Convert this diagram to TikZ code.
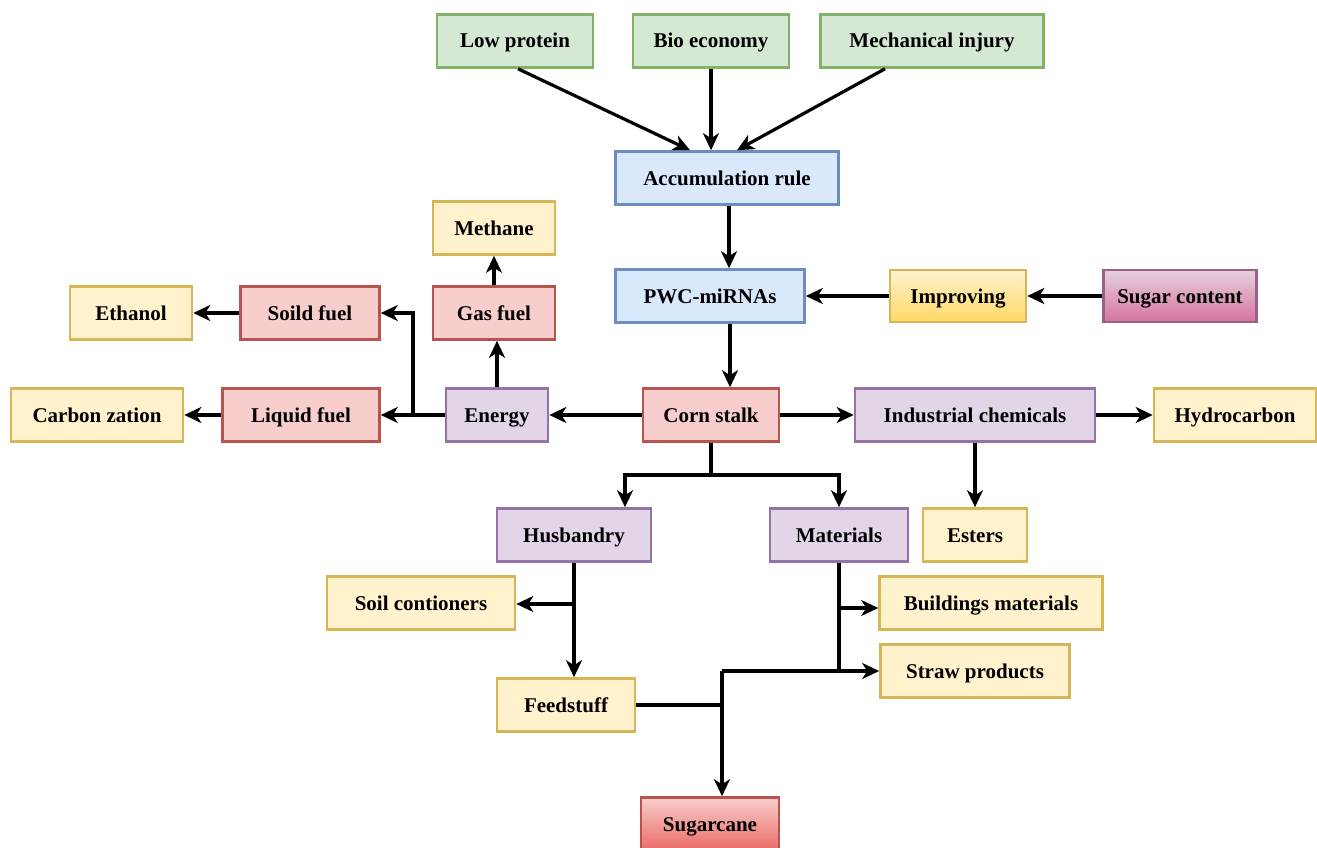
\documentclass[tikz,border=0pt]{standalone}
\usepackage{fontspec}
\setmainfont{Liberation Serif}
\usetikzlibrary{arrows.meta}
\definecolor{gBd}{HTML}{82B366}\definecolor{gFi}{HTML}{D5E8D4}
\definecolor{bBd}{HTML}{6C8EBF}\definecolor{bFi}{HTML}{DAE8FC}
\definecolor{rBd}{HTML}{B85450}\definecolor{rFi}{HTML}{F8CECC}
\definecolor{pBd}{HTML}{9673A6}\definecolor{pFi}{HTML}{E1D5E7}
\definecolor{yBd}{HTML}{D6B656}\definecolor{yFi}{HTML}{FFF2CC}
\definecolor{yDk}{HTML}{FFD966}
\definecolor{mBd}{HTML}{996185}\definecolor{mFi}{HTML}{E6D0DE}\definecolor{mDk}{HTML}{D5739D}
\definecolor{rDk}{HTML}{EA6B66}
\begin{document}
\begin{tikzpicture}[x=1pt,y=-1pt,
  box/.style={draw, line width=2.6pt, minimum height=53pt, inner sep=0pt,
    text height=14pt, text depth=0pt,
    font=\fontsize{21}{24}\selectfont\bfseries},
  gbox/.style={box, draw=gBd, fill=gFi},
  bbox/.style={box, draw=bBd, fill=bFi},
  rbox/.style={box, draw=rBd, fill=rFi},
  pbox/.style={box, draw=pBd, fill=pFi},
  ybox/.style={box, draw=yBd, fill=yFi},
  arr/.style={line width=3.2pt, -{Stealth[length=17pt,width=16pt,inset=5pt]}},
  ln/.style={line width=3.2pt}]
\useasboundingbox (0,0) rectangle (1317,848);
% top
\node[gbox, minimum width=156pt] (lp) at (515,41) {Low protein};
\node[gbox, minimum width=156pt] (be) at (711,41) {Bio economy};
\node[gbox, minimum width=223pt] (mi) at (932,41) {Mechanical injury};
\node[bbox, minimum width=223pt] (acc) at (727,178) {Accumulation rule};
\node[bbox, minimum width=189pt] (pwc) at (710,296) {PWC-miRNAs};
\node[box, draw=yBd, top color=yFi, bottom color=yDk, minimum width=136pt, minimum height=52pt] (imp) at (958,296) {Improving};
\node[box, draw=mBd, top color=mFi, bottom color=mDk, minimum width=153pt, minimum height=52pt] (sc) at (1180,296) {Sugar content};
% left
\node[ybox, minimum width=122pt] (meth) at (494,228) {Methane};
\node[rbox, minimum width=122pt] (gas) at (494,313) {Gas fuel};
\node[rbox, minimum width=139pt] (sol) at (310,313) {Soild fuel};
\node[ybox, minimum width=122pt] (eth) at (131,313) {Ethanol};
\node[ybox, minimum width=172pt] (carb) at (97,415) {Carbon zation};
\node[rbox, minimum width=157pt] (liq) at (301,415) {Liquid fuel};
\node[pbox, minimum width=102pt] (en) at (497,415) {Energy};
% middle row
\node[rbox, minimum width=136pt] (corn) at (711,415) {Corn stalk};
\node[pbox, minimum width=240pt] (ind) at (975,415) {Industrial chemicals};
\node[ybox, minimum width=162pt] (hyd) at (1235,415) {Hydrocarbon};
\node[ybox, minimum width=104pt] (est) at (975,535) {Esters};
% lower
\node[pbox, minimum width=154pt] (hus) at (574,535) {Husbandry};
\node[pbox, minimum width=138pt] (mat) at (839,535) {Materials};
\node[ybox, minimum width=188pt] (soil) at (421,603) {Soil contioners};
\node[ybox, minimum width=223pt] (bm) at (991,603) {Buildings materials};
\node[ybox, minimum width=189pt] (straw) at (975,671) {Straw products};
\node[ybox, minimum width=138pt] (feed) at (566,705) {Feedstuff};
\node[box, draw=rBd, top color=rFi, bottom color=rDk, minimum width=138pt] (sug) at (710,824) {Sugarcane};
% connectors top
\draw[arr] ([xshift=3pt]lp.south) -- ([xshift=-37pt]acc.north);
\draw[arr] (be.south) -- (be.south |- acc.north);
\draw[arr] ([xshift=-47pt]mi.south) -- ([xshift=10pt]acc.north);
\draw[arr] ([xshift=2pt]acc.south) -- ([xshift=2pt]acc.south |- pwc.north);
\draw[arr] ([xshift=20pt]pwc.south) -- ([xshift=20pt]pwc.south |- corn.north);
\draw[arr] (imp.west) -- (pwc.east);
\draw[arr] (sc.west) -- (imp.east);
% middle
\draw[arr] (corn.west) -- (en.east);
\draw[arr] (corn.east) -- (ind.west);
\draw[arr] (ind.east) -- (hyd.west);
\draw[arr] (ind.south) -- (est.north);
\draw[arr] (en.north) -- (en.north |- gas.south);
\draw[arr] (gas.north) -- (meth.south);
\draw[arr] (en.west) -- (liq.east);
\coordinate (ej) at (413,415);
\draw[arr] (ej) |- (sol.east);
\draw[arr] (liq.west) -- (carb.east);
\draw[arr] (sol.west) -- (eth.east);
% corn down
\coordinate (cj) at (711,475);
\draw[ln] (corn.south) -- (cj);
\draw[arr] (cj) -| ([xshift=51pt]hus.north);
\draw[arr] (cj) -| (mat.north);
% husbandry
\draw[arr] (hus.south) -- (hus.south |- feed.north);
\coordinate (hj) at (574,604);
\draw[arr] (hj) -- (hj -| soil.east);
% materials
\draw[arr] (mat.south) |- (straw.west);
\coordinate (mj) at (839,608);
\draw[arr] (mj) -- (mj -| bm.west);
% sugarcane
\coordinate (sj) at (722,671);
\draw[ln] (feed.east) -- (feed.east -| sj);
\draw[ln] (sj) -- (mat.south |- straw.west);
\draw[arr] (sj) -- (sj |- sug.north);
\end{tikzpicture}
\end{document}
